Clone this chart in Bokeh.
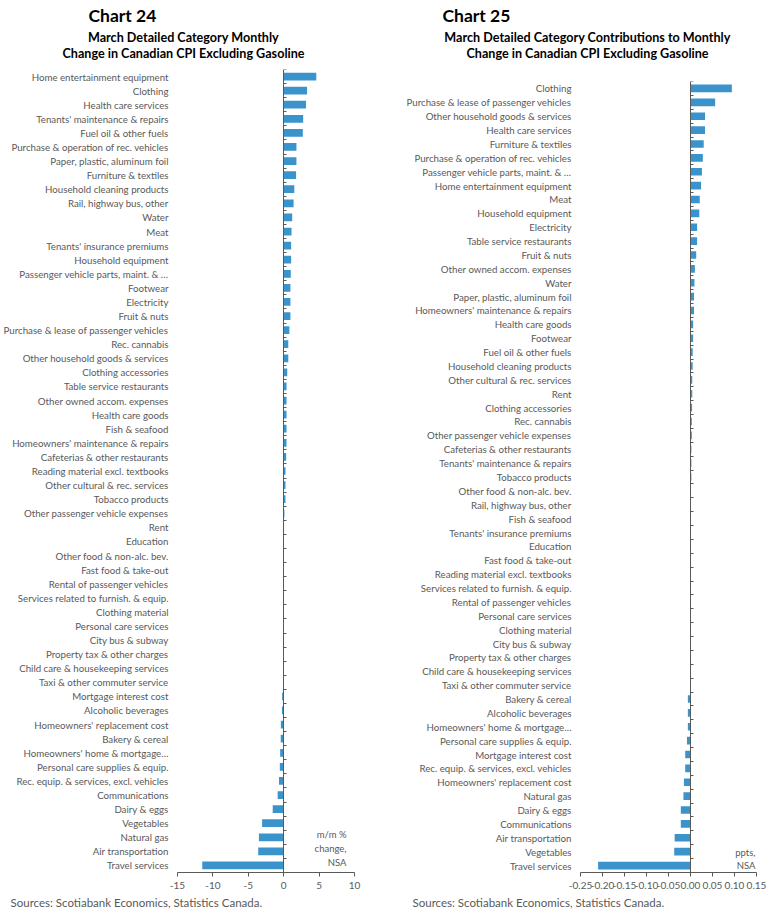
from bokeh.plotting import figure
from bokeh.models import (Range1d, LinearAxis, FixedTicker, Label,
                          NumeralTickFormatter, ColumnDataSource)
from bokeh.layouts import row, column
from bokeh.embed import file_html
from bokeh.resources import INLINE

# ---------------- data ----------------
cats24 = [
    "Home entertainment equipment", "Clothing", "Health care services",
    "Tenants' maintenance & repairs", "Fuel oil & other fuels",
    "Purchase & operation of rec. vehicles", "Paper, plastic, aluminum foil",
    "Furniture & textiles", "Household cleaning products", "Rail, highway bus, other",
    "Water", "Meat", "Tenants' insurance premiums", "Household equipment",
    "Passenger vehicle parts, maint. & …", "Footwear", "Electricity", "Fruit & nuts",
    "Purchase & lease of passenger vehicles", "Rec. cannabis",
    "Other household goods & services", "Clothing accessories",
    "Table service restaurants", "Other owned accom. expenses", "Health care goods",
    "Fish & seafood", "Homeowners' maintenance & repairs",
    "Cafeterias & other restaurants", "Reading material excl. textbooks",
    "Other cultural & rec. services", "Tobacco products",
    "Other passenger vehicle expenses", "Rent", "Education",
    "Other food & non-alc. bev.", "Fast food & take-out",
    "Rental of passenger vehicles", "Services related to furnish. & equip.",
    "Clothing material", "Personal care services", "City bus & subway",
    "Property tax & other charges", "Child care & housekeeping services",
    "Taxi & other commuter service", "Mortgage interest cost", "Alcoholic beverages",
    "Homeowners' replacement cost", "Bakery & cereal", "Homeowners' home & mortgage…",
    "Personal care supplies & equip.", "Rec. equip. & services, excl. vehicles",
    "Communications", "Dairy & eggs", "Vegetables", "Natural gas",
    "Air transportation", "Travel services",
]
vals24 = [
    4.6, 3.3, 3.15, 2.75, 2.7,
    1.8, 1.8, 1.75, 1.5, 1.4,
    1.2, 1.1, 1.05, 1.05, 1.0,
    0.95, 0.95, 0.95, 0.8, 0.65,
    0.65, 0.5, 0.4, 0.4, 0.4,
    0.4, 0.4, 0.35, 0.25, 0.25,
    0.25, 0.1, 0.05, 0.03, 0.02,
    0.02, 0.01, 0.0, 0.0, 0.0,
    0.0, 0.0, 0.0, 0.0, -0.22,
    -0.25, -0.4, -0.42, -0.5, -0.55,
    -0.66, -0.85, -1.55, -3.05, -3.5,
    -3.6, -11.5,
]

cats25 = [
    "Clothing", "Purchase & lease of passenger vehicles",
    "Other household goods & services", "Health care services",
    "Furniture & textiles", "Purchase & operation of rec. vehicles",
    "Passenger vehicle parts, maint. & …", "Home entertainment equipment", "Meat",
    "Household equipment", "Electricity", "Table service restaurants", "Fruit & nuts",
    "Other owned accom. expenses", "Water", "Paper, plastic, aluminum foil",
    "Homeowners' maintenance & repairs", "Health care goods", "Footwear",
    "Fuel oil & other fuels", "Household cleaning products",
    "Other cultural & rec. services", "Rent", "Clothing accessories", "Rec. cannabis",
    "Other passenger vehicle expenses", "Cafeterias & other restaurants",
    "Tenants' maintenance & repairs", "Tobacco products", "Other food & non-alc. bev.",
    "Rail, highway bus, other", "Fish & seafood", "Tenants' insurance premiums",
    "Education", "Fast food & take-out", "Reading material excl. textbooks",
    "Services related to furnish. & equip.", "Rental of passenger vehicles",
    "Personal care services", "Clothing material", "City bus & subway",
    "Property tax & other charges", "Child care & housekeeping services",
    "Taxi & other commuter service", "Bakery & cereal", "Alcoholic beverages",
    "Homeowners' home & mortgage…", "Personal care supplies & equip.",
    "Mortgage interest cost", "Rec. equip. & services, excl. vehicles",
    "Homeowners' replacement cost", "Natural gas", "Dairy & eggs", "Communications",
    "Air transportation", "Vegetables", "Travel services",
]
vals25 = [
    0.094, 0.056, 0.033, 0.033, 0.030,
    0.028, 0.026, 0.024, 0.021, 0.020,
    0.015, 0.015, 0.013, 0.010, 0.009,
    0.008, 0.008, 0.006, 0.006, 0.005,
    0.005, 0.004, 0.004, 0.0035, 0.003,
    0.003, 0.002, 0.002, 0.002, 0.001,
    0.001, 0.0008, 0.0005, 0.0005, 0.0003,
    0.0002, 0.0001, 0.0, 0.0, 0.0,
    0.0, 0.0, 0.0, 0.0, -0.006,
    -0.006, -0.006, -0.008, -0.012, -0.012,
    -0.015, -0.016, -0.022, -0.022, -0.036,
    -0.037, -0.21,
]

ticks24 = [-15, -10, -5, 0, 5, 10]
ticks25 = [-0.25, -0.20, -0.15, -0.10, -0.05, 0.00, 0.05, 0.10, 0.15]

title24 = "Chart 24"
sub24 = ["March Detailed Category Monthly", "Change in Canadian CPI Excluding Gasoline"]
unit24 = ["m/m %", "change,", "NSA"]
title25 = "Chart 25"
sub25 = ["March Detailed Category Contributions to Monthly",
         "Change in Canadian CPI Excluding Gasoline"]
unit25 = ["ppts,", "NSA"]
source = "Sources: Scotiabank Economics, Statistics Canada."

BAR = "#3A93CB"
GRAY = "#595959"
FONT = "Lato"


def no_align(f):
    if "frame_align" in f.properties():
        f.frame_align = False
    return f


def blank(width, height):
    """A plain canvas whose data units are pixels (y grows downward)."""
    f = figure(width=width, height=height, output_backend="svg", toolbar_location=None,
               x_range=Range1d(0, width), y_range=Range1d(height, 0),
               x_axis_location=None, y_axis_location=None,
               min_border_left=0, min_border_right=0, min_border_top=0,
               min_border_bottom=0)
    f.outline_line_color = None
    f.grid.visible = False
    return no_align(f)


def head(width, height, title, title_x, subs, sub_x):
    f = blank(width, height)
    f.add_layout(Label(x=title_x, y=15, text=title, text_font=FONT,
                       text_font_style="bold", text_font_size="17.5px",
                       text_color="black", text_align="left", text_baseline="middle"))
    for i, s in enumerate(subs):
        f.add_layout(Label(x=sub_x, y=37 + 16 * i, text=s, text_font=FONT,
                           text_font_style="bold", text_font_size="12.6px",
                           text_color="black", text_align="center",
                           text_baseline="middle"))
    return f


def foot(width, height, x):
    f = blank(width, height)
    f.add_layout(Label(x=x, y=8, text=source, text_font=FONT, text_font_size="11.5px",
                       text_color=GRAY, text_align="left", text_baseline="middle"))
    return f


def chart(cats, vals, xmin, xmax, ticks, fmt, width, height, bl, br,
          units, unit_x, unit_align, unit_y0, unit_step):
    n = len(cats)
    rows = [n - 1 - i for i in range(n)]          # first category on top
    p = figure(width=width, height=height, output_backend="svg", toolbar_location=None,
               x_range=Range1d(xmin, xmax), y_range=Range1d(-0.5, n - 0.5),
               min_border_left=bl, min_border_right=br, min_border_top=0,
               min_border_bottom=22, y_axis_location=None)
    p.outline_line_color = None
    p.grid.visible = False
    no_align(p)

    src = ColumnDataSource(dict(row=rows, val=vals, cat=cats))
    p.hbar(y="row", left=0, right="val", height=0.55, source=src,
           fill_color=BAR, line_color=None)

    ya = LinearAxis(ticker=FixedTicker(ticks=rows),
                    major_label_overrides={r: c for r, c in zip(rows, cats)},
                    axis_line_color=None, major_tick_line_color=None,
                    major_tick_out=0, major_tick_in=0, minor_tick_line_color=None,
                    major_label_standoff=9, major_label_text_font=FONT,
                    major_label_text_font_size="9.7px", major_label_text_color=GRAY)
    p.add_layout(ya, "left")

    xa = p.xaxis[0]
    xa.ticker = FixedTicker(ticks=ticks)
    xa.formatter = NumeralTickFormatter(format=fmt)
    xa.axis_line_color = GRAY
    xa.major_tick_line_color = GRAY
    xa.major_tick_out = 4
    xa.major_tick_in = 0
    xa.minor_tick_line_color = None
    xa.major_label_standoff = 5
    xa.major_label_text_font = FONT
    xa.major_label_text_font_size = "10px"
    xa.major_label_text_color = GRAY

    bounds = [r + 0.5 for r in range(-1, n)]
    za = LinearAxis(ticker=FixedTicker(ticks=bounds),
                    fixed_location=0, axis_line_color=GRAY, major_tick_line_color=GRAY,
                    major_tick_out=3, major_tick_in=0, minor_tick_line_color=None,
                    major_label_text_font_size="0px", major_label_standoff=0,
                    major_label_text_color=None)
    p.add_layout(za, "right")

    for i, s in enumerate(units):
        p.add_layout(Label(x=unit_x, y=unit_y0 - unit_step * i, x_units="screen",
                           y_units="screen", text=s, text_font=FONT,
                           text_font_size="9.5px", text_color=GRAY,
                           text_align=unit_align, text_baseline="middle"))
    return p


W1, W2 = 388, 386
H1, H2 = 69, 81
FOOT = 24
TOTAL = 918

h24 = head(W1, H1, title24, 88, sub24, 183)
p24 = chart(cats24, vals24, -15, 10, ticks24, "0", W1, TOTAL - H1 - FOOT, 177, 34,
            unit24, 169, "right", 38, 14)
f24 = foot(W1, FOOT, 10)

h25 = head(W2, H2, title25, 54, sub25, 199)
p25 = chart(cats25, vals25, -0.25, 0.15, ticks25, "0.00", W2, TOTAL - H2 - FOOT, 192, 18,
            unit25, 175, "right", 20, 13)
f25 = foot(W2, FOOT, 24)

layout = row(column(h24, p24, f24), column(h25, p25, f25))
open("out.html", "w").write(file_html(layout, INLINE))
